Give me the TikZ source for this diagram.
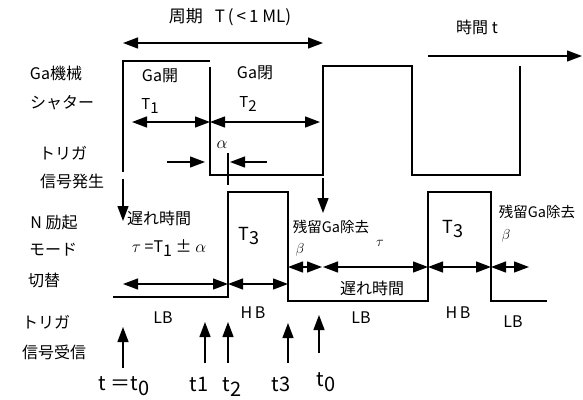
\documentclass[tikz,border=0pt]{standalone}
\usepackage{fontspec}
\setmainfont{Noto Sans CJK JP}
\usetikzlibrary{arrows.meta}
\newcommand{\lo}[1]{\raisebox{-0.4ex}{#1}}
\newcommand{\fs}[1]{\fontsize{#1}{#1}\selectfont}
\begin{document}
\begin{tikzpicture}[x=1pt,y=-1pt,
  wire/.style={line width=1.3pt},
  tipA/.style={wire,-{Triangle[length=15pt,width=11pt]}},
  both/.style={wire,{Triangle[length=15pt,width=11pt]}-{Triangle[length=15pt,width=11pt]}},
  lab/.style={inner sep=0pt,font=\fs{16}},
  sml/.style={inner sep=0pt,font=\fs{14.5}},
  big/.style={inner sep=0pt,font=\fs{20}},
  gr/.style={inner sep=0pt,font=\fs{17}}]
\useasboundingbox (0,0) rectangle (583,399);

% ---- header
\node[lab,font=\fs{17}] (hdr) at (230,17) {周期\hspace{12pt}T\hspace{3pt}(\hspace{3pt}<\hspace{3pt}1 ML)};
\node[lab] (tim) at (477,27) {時間 t};
\coordinate (pL) at (123,43); \coordinate (pR) at (323,43);
\draw[both] (pL) -- (pR);
\coordinate (tA) at (428,56); \coordinate (tB) at (582,56);
\draw[tipA] (tA) -- (tB);

% ---- left labels
\node[lab] (l1) at (56,73) {Ga機械};
\node[lab] (l2) at (62,103) {シャター};
\node[lab] (l3) at (63,153) {トリガ};
\node[lab] (l4) at (72,181) {信号発生};
\node[lab] (l5) at (54,222) {N 励起};
\node[lab] (l6) at (53,250) {モード};
\node[lab] (l7) at (44,280) {切替};
\node[lab] (l8) at (46,322) {トリガ};
\node[lab] (l9) at (54,352) {信号受信};

% ---- shutter waveform
\coordinate (s0) at (123,61); \coordinate (s1) at (210,61);
\coordinate (s0b) at (123,172);
\coordinate (s0c) at (123,179); \coordinate (s0d) at (123,221);
\draw[wire] (s0b) -- (s0) -- (s1);
\draw[tipA] (s0c) -- (s0d);
\coordinate (a1) at (210,67); \coordinate (a2) at (210,175);
\coordinate (a3) at (323,175); \coordinate (a4) at (323,66);
\coordinate (a5) at (412,66); \coordinate (a6) at (412,175);
\coordinate (a7) at (520,175); \coordinate (a8) at (520,66);
\draw[wire] (a1) -- (a2) -- (a3) -- (a4) -- (a5) -- (a6) -- (a7) -- (a8);

\node[lab] (gaO) at (160,76) {Ga開};
\node[lab,font=\fs{15}] (T1) at (150,106) {T\lo{1}};
\node[lab] (gaC) at (255,73) {Ga閉};
\node[lab,font=\fs{15}] (T2) at (248,104) {T\lo{2}};
\coordinate (t1L) at (132,122); \coordinate (t1R) at (210,122);
\coordinate (t2R) at (320,122);
\draw[both] (t1L) -- (t1R);
\draw[both] (t1R) -- (t2R);

% alpha
\node[gr] (al) at (222,145) {$\alpha$};
\coordinate (aL0) at (167,162); \coordinate (aL1) at (205,162);
\coordinate (aR0) at (267,162); \coordinate (aR1) at (230,162);
\draw[tipA] (aL0) -- (aL1);
\draw[tipA] (aR0) -- (aR1);
\coordinate (av0) at (228,153); \coordinate (av1) at (228,185);
\draw[wire] (av0) -- (av1);

% down arrow at shutter rise
\coordinate (d0) at (323,178); \coordinate (d1) at (323,213);
\draw[tipA] (d0) -- (d1);

% ---- N mode waveform
\coordinate (n0) at (113,297); \coordinate (n1) at (228,297);
\coordinate (n2) at (228,192); \coordinate (n3) at (288,192);
\coordinate (n4) at (288,301); \coordinate (n5) at (428,301);
\coordinate (n6) at (428,192); \coordinate (n7) at (491,192);
\coordinate (n8) at (491,301); \coordinate (n9) at (547,301);
\draw[wire] (n0) -- (n1) -- (n2) -- (n3) -- (n4) -- (n5) -- (n6) -- (n7) -- (n8) -- (n9);

\node[lab] (dl1) at (159,218) {遅れ時間};
\node[lab] (eq) at (169,248) {$\tau$ =T\lo{1} ± $\alpha$};
\node[lab,font=\fs{18}] (T3a) at (249,236) {T\lo{3}};
\coordinate (u0) at (123,284); \coordinate (u1) at (228,284); \coordinate (u2) at (288,284);
\draw[both] (u0) -- (u1);
\draw[both] (u1) -- (u2);

\node[sml] (rz1) at (331,227) {残留Ga除去};
\node[gr,font=\fs{15}] (b1) at (300,250) {$\beta$};
\node[gr,font=\fs{15}] (tau2) at (380,243) {$\tau$};
\node[lab] (dl2) at (372,288) {遅れ時間};
\node[lab,font=\fs{18}] (T3b) at (453,229) {T\lo{3}};
\node[sml] (rz2) at (537,212) {残留Ga除去};
\node[gr,font=\fs{15}] (b2) at (506,236) {$\beta$};
\coordinate (v0) at (288,267); \coordinate (v1) at (322,267);
\coordinate (v2) at (323,267); \coordinate (v3) at (428,267);
\coordinate (v4) at (491,267); \coordinate (v5) at (529,267);
\draw[both] (v0) -- (v1);
\draw[both] (v2) -- (v3);
\draw[both] (v3) -- (v4);
\draw[both] (v4) -- (v5);

\node[lab] (LB1) at (163,318) {LB};
\node[lab] (HB1) at (253,313) {H\,B};
\node[lab] (LB2) at (361,318) {LB};
\node[lab] (HB2) at (458,313) {H\,B};
\node[lab] (LB3) at (513,322) {LB};

% ---- trigger received arrows
\coordinate (r0a) at (123,368); \coordinate (r0b) at (123,327);
\coordinate (r1a) at (205,363); \coordinate (r1b) at (205,322);
\coordinate (r2a) at (228,363); \coordinate (r2b) at (228,322);
\coordinate (r3a) at (288,363); \coordinate (r3b) at (288,323);
\coordinate (r4a) at (319,353); \coordinate (r4b) at (319,315);
\draw[tipA] (r0a) -- (r0b);
\draw[tipA] (r1a) -- (r1b);
\draw[tipA] (r2a) -- (r2b);
\draw[tipA] (r3a) -- (r3b);
\draw[tipA] (r4a) -- (r4b);

\node[big] (k0) at (124,386) {t ＝t\lo{0}};
\node[big] (k1) at (199,384) {t1};
\node[big] (k2) at (232,387) {t\lo{2}};
\node[big] (k3) at (281,384) {t3};
\node[big] (k4) at (326,382) {t\lo{0}};
\end{tikzpicture}
\end{document}
